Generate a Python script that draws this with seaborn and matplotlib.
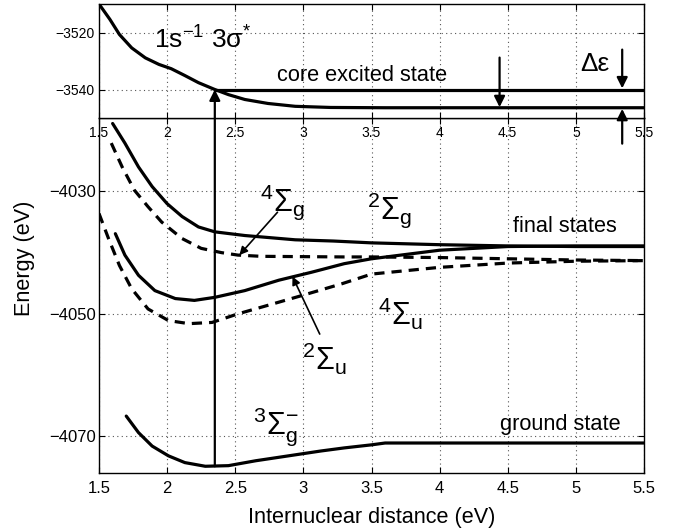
"""
Potential energy curves: core excited state and final states.
"""
import pandas as pd
import matplotlib
matplotlib.use('Agg')
import matplotlib.pyplot as plt
import seaborn as sns

# core excited state (upper panel)
core_r = [1.5, 1.58, 1.65, 1.74, 1.84, 1.94, 2.03, 2.13, 2.23, 2.35, 2.45, 2.57, 2.74, 2.94, 3.2,
          3.6, 4.0, 4.5, 5.0, 5.5]
core_e = [-3510, -3515.4, -3520.7, -3525.4, -3528.9, -3531.2, -3532.7, -3535.1, -3537.6, -3540,
          -3541.8, -3543.5, -3544.9, -3545.9, -3546.3, -3546.4, -3546.4, -3546.4, -3546.4, -3546.4]
level_r = [2.35, 5.5]
level_e = [-3540, -3540]

# final states (lower panel)
g2_r = [1.6, 1.69, 1.79, 1.89, 2.0, 2.11, 2.23, 2.35, 2.57, 2.94, 3.22, 3.5, 4.0, 4.5, 5.0, 5.5]
g2_e = [-4018.9, -4022.1, -4026, -4029.2, -4032, -4034.1, -4035.8, -4036.6, -4037.2, -4037.9,
        -4038.1, -4038.4, -4038.7, -4038.9, -4039, -4039]
g4_r = [1.59, 1.67, 1.76, 1.86, 1.96, 2.11, 2.25, 2.4, 2.52, 2.69, 3.3, 3.5, 4.0, 4.5, 5.0, 5.5]
g4_e = [-4022.1, -4026, -4029.8, -4032.5, -4035, -4037.7, -4039.3, -4040, -4040.4, -4040.6,
        -4040.7, -4040.7, -4040.8, -4041, -4041.2, -4041.3]
u2_r = [1.62, 1.69, 1.79, 1.91, 2.06, 2.2, 2.35, 2.57, 2.82, 3.06, 3.3, 3.5, 4.0, 4.5, 5.0, 5.5]
u2_e = [-4036.9, -4040.4, -4043.7, -4046.2, -4047.5, -4047.8, -4047.3, -4046.2, -4044.5, -4043.2,
        -4041.8, -4041, -4039.6, -4039, -4038.9, -4038.9]
u4_r = [1.5, 1.57, 1.65, 1.74, 1.86, 2.01, 2.16, 2.33, 2.52, 2.74, 2.99, 3.28, 3.5, 4.0, 4.5, 5.0, 5.5]
u4_e = [-4033.6, -4037.7, -4042.1, -4045.9, -4049.2, -4051.1, -4051.6, -4051.4, -4050, -4048.6,
        -4047, -4045.1, -4043.5, -4042.4, -4041.7, -4041.4, -4041.3]
ground_r = [1.7, 1.79, 1.89, 2.01, 2.13, 2.28, 2.45, 2.65, 2.89, 3.13, 3.3, 3.5, 3.6, 4.0, 4.5, 5.0, 5.5]
ground_e = [-4066.7, -4069.4, -4071.6, -4073.2, -4074.3, -4074.9, -4074.8, -4074, -4073.2,
            -4072.4, -4071.9, -4071.4, -4071.1, -4071.1, -4071.1, -4071.1, -4071.1]

# excitation and delta-epsilon arrows (tail, head)
excite_arrow = [(2.35, -4074.9), (2.35, -3540)]
down_arrow = [(4.44, -3528.8), (4.44, -3546.2)]
de_down_arrow = [(5.34, -3526), (5.34, -3539.6)]
de_up_arrow = [(5.34, -3559), (5.34, -3546.8)]
g4_arrow = [(2.81, -4033.4), (2.53, -4040.4)]
u2_arrow = [(3.12, -4053.3), (2.92, -4043.9)]

x_ticks = [1.5, 2, 2.5, 3, 3.5, 4, 4.5, 5, 5.5]
x_tick_labels = ['1.5', '2', '2.5', '3', '3.5', '4', '4.5', '5', '5.5']


def style_axes(ax, yticks, ylim, labelsize, ypad):
    ax.set_xlim(1.5, 5.5)
    ax.set_ylim(*ylim)
    ax.set_xticks(x_ticks)
    ax.set_xticklabels(x_tick_labels)
    ax.set_yticks(yticks)
    ax.set_xlabel('')
    ax.set_ylabel('')
    ax.grid(True, linestyle=(0, (1, 3)), color='#555555', linewidth=0.8)
    ax.tick_params(direction='in', length=4, top=True, right=True,
                   labelsize=labelsize, color='black', labelcolor='black')
    ax.tick_params(axis='x', pad=6)
    ax.tick_params(axis='y', pad=ypad)
    for spine in ax.spines.values():
        spine.set_visible(True)
        spine.set_color('black')
        spine.set_linewidth(1.0)


def curve(ax, r, e, dashed=False):
    data = pd.DataFrame({'r': r, 'e': e})
    kws = dict(color='black', linewidth=2.3)
    if dashed:
        kws['linestyle'] = (0, (3.2, 2.2))
    sns.lineplot(data=data, x='r', y='e', ax=ax, estimator=None, sort=False, **kws)


def arrow(ax, pts, coords=None, lw=1.6, scale=16):
    (x0, y0), (x1, y1) = pts
    ax.annotate('', xy=(x1, y1), xycoords='data',
                xytext=(x0, y0), textcoords=coords if coords is not None else 'data',
                arrowprops=dict(arrowstyle='-|>', color='black', lw=lw,
                                mutation_scale=scale, shrinkA=0, shrinkB=0),
                annotation_clip=False)


sns.set_style('ticks')
plt.rcParams['font.family'] = ['Liberation Sans', 'DejaVu Sans']
plt.rcParams['text.color'] = 'black'
plt.rcParams['mathtext.fontset'] = 'custom'
plt.rcParams['mathtext.rm'] = 'Liberation Sans'
plt.rcParams['mathtext.it'] = 'Liberation Sans:italic'
plt.rcParams['mathtext.bf'] = 'Liberation Sans:bold'

fig = plt.figure(figsize=(6.74, 5.29), dpi=100)
left, right = 99 / 674, 644 / 674
split = 1 - 118 / 529
ax_bot = fig.add_axes([left, 1 - 473 / 529, right - left, split - (1 - 473 / 529)])
ax_top = fig.add_axes([left, split, right - left, (1 - 4 / 529) - split])

# lower panel
curve(ax_bot, g2_r, g2_e)
curve(ax_bot, g4_r, g4_e, dashed=True)
curve(ax_bot, u2_r, u2_e)
curve(ax_bot, u4_r, u4_e, dashed=True)
curve(ax_bot, ground_r, ground_e)
style_axes(ax_bot, [-4070, -4050, -4030], (-4076, -4018), 12, 2)

sig = 22
ax_bot.text(2.68, -4031.8, r'$^{4}\Sigma_{\rm g}$', fontsize=sig, ha='left', va='center')
ax_bot.text(3.47, -4033.0, r'$^{2}\Sigma_{\rm g}$', fontsize=sig, ha='left', va='center')
ax_bot.text(3.55, -4050.0, r'$^{4}\Sigma_{\rm u}$', fontsize=sig, ha='left', va='center')
ax_bot.text(2.99, -4057.4, r'$^{2}\Sigma_{\rm u}$', fontsize=sig, ha='left', va='center')
ax_bot.text(2.63, -4068.4, r'$^{3}\Sigma_{\rm g}^{-}$', fontsize=sig, ha='left', va='center')
ax_bot.text(4.54, -4035.7, 'final states', fontsize=15.7, ha='left', va='center')
ax_bot.text(4.44, -4068.0, 'ground state', fontsize=15.7, ha='left', va='center')
arrow(ax_bot, g4_arrow, lw=1.2, scale=12)
arrow(ax_bot, u2_arrow, lw=1.2, scale=12)

# upper panel
curve(ax_top, core_r, core_e)
curve(ax_top, level_r, level_e)
style_axes(ax_top, [-3540, -3520], (-3550, -3510), 10, 3)

ax_top.text(1.9, -3522.8, '1s$^{-1}$ 3σ$^{*}$', fontsize=19, ha='left', va='center')
ax_top.text(2.81, -3535.1, 'core excited state', fontsize=15.7, ha='left', va='center')
ax_top.text(5.03, -3531.2, 'Δε', fontsize=19, ha='left', va='center')
arrow(ax_top, excite_arrow, coords=ax_bot.transData, lw=1.6)
arrow(ax_top, down_arrow)
arrow(ax_top, de_down_arrow)
arrow(ax_top, de_up_arrow)

fig.text(25 / 674, 1 - 258 / 529, 'Energy (eV)', fontsize=15.6, rotation=90, ha='center', va='center')
fig.text((left + right) / 2, 1 - 517 / 529, 'Internuclear distance (eV)', fontsize=15.6,
         ha='center', va='center')

fig.savefig('out.png', dpi=100)
